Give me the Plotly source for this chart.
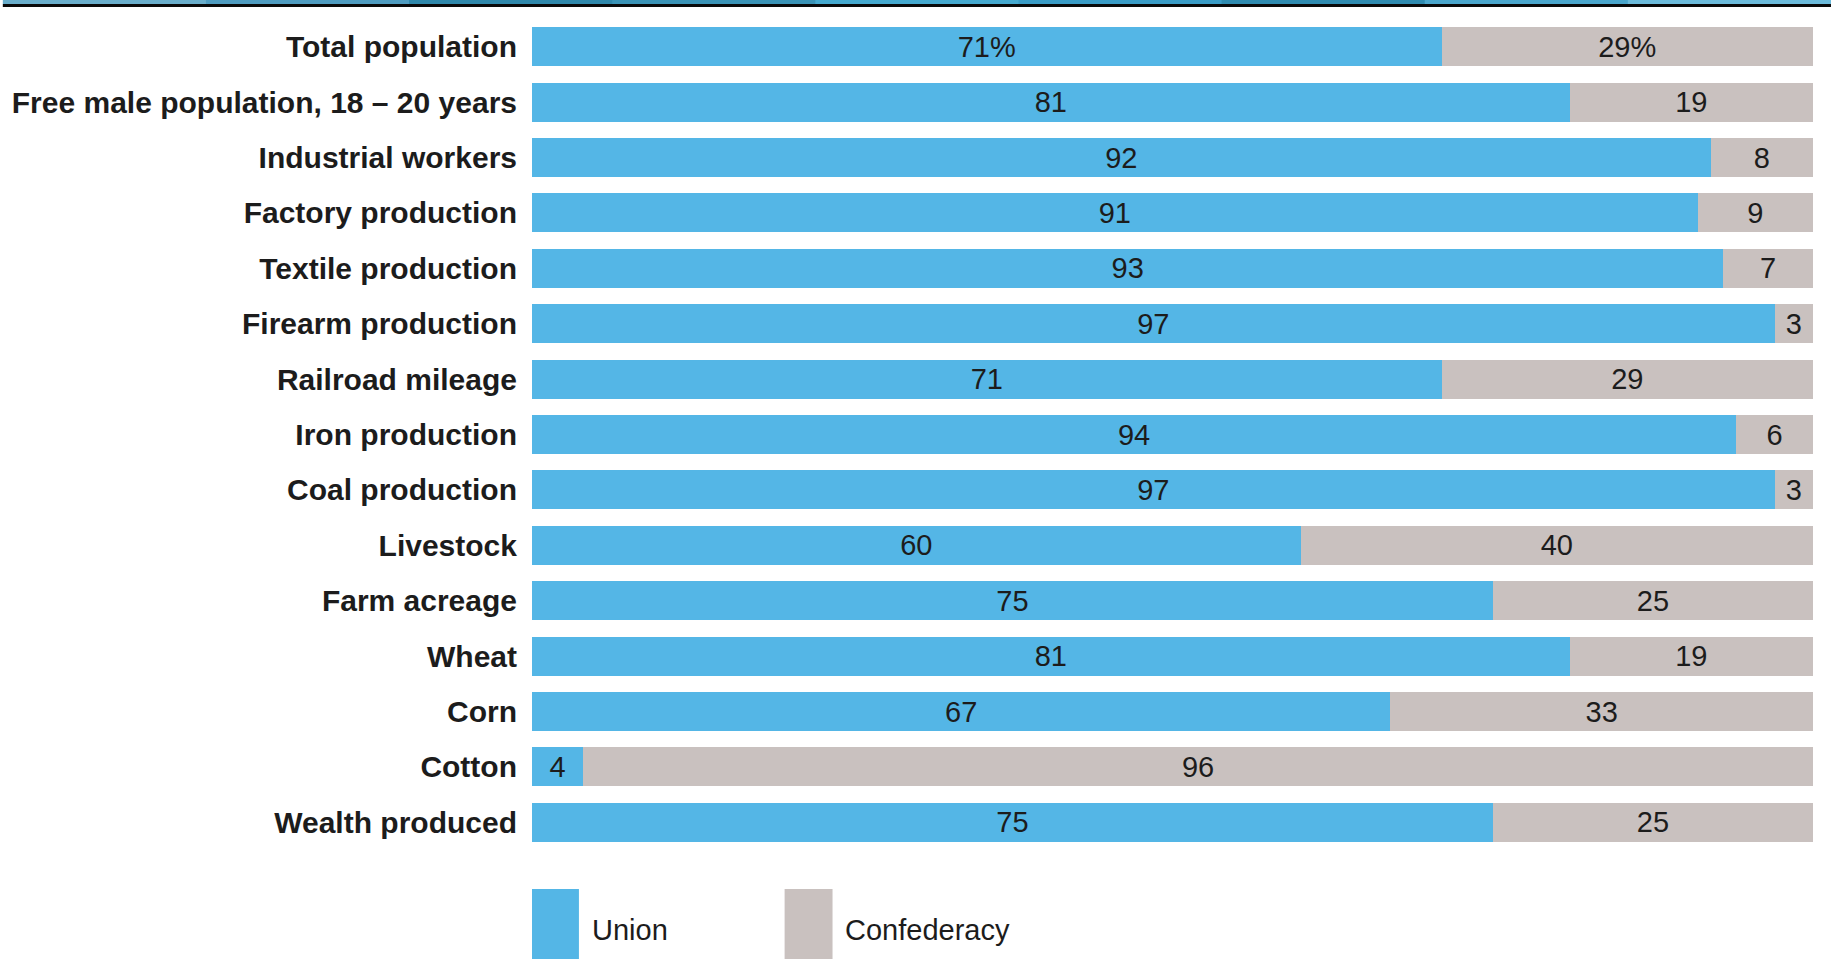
import plotly.graph_objects as go

categories = [
    "Total population",
    "Free male population, 18 – 20 years",
    "Industrial workers",
    "Factory production",
    "Textile production",
    "Firearm production",
    "Railroad mileage",
    "Iron production",
    "Coal production",
    "Livestock",
    "Farm acreage",
    "Wheat",
    "Corn",
    "Cotton",
    "Wealth produced",
]
union = [71, 81, 92, 91, 93, 97, 71, 94, 97, 60, 75, 81, 67, 4, 75]
confederacy = [29, 19, 8, 9, 7, 3, 29, 6, 3, 40, 25, 19, 33, 96, 25]
series_names = ["Union", "Confederacy"]

UNION_COLOR = "#54B6E6"
CONF_COLOR = "#C9C1BF"
TEXT_COLOR = "#1c1c1c"
FONT = "Liberation Sans, Arial, sans-serif"

W, H = 1831, 959
ML, MR, MT, MB = 530, 18, 19, 109


def px_x(px):
    return (px - ML) / (W - ML - MR)


def px_y(py):
    return (H - MB - py) / (H - MT - MB)


def labels(vals):
    return [f"{v}%" if i == 0 else str(v) for i, v in enumerate(vals)]


fig = go.Figure()
for name, vals, color in [(series_names[0], union, UNION_COLOR),
                          (series_names[1], confederacy, CONF_COLOR)]:
    fig.add_trace(go.Bar(
        y=categories, x=vals, orientation="h", name=name,
        marker=dict(color=color, line=dict(width=0)),
        text=labels(vals), textposition="inside", insidetextanchor="middle",
        textangle=0, constraintext="none", cliponaxis=False,
        textfont=dict(family=FONT, size=29, color=TEXT_COLOR),
        hoverinfo="skip",
    ))

shapes = []
# top decorative band (approximate gradient)
band_colors = ["#6aaecb", "#4f9cc0", "#2f88ab", "#3a93b6", "#45a9cf", "#3a9cc6", "#2f8bb0", "#4aa6cc", "#6cbbdb"]
n = len(band_colors)
for i, c in enumerate(band_colors):
    shapes.append(dict(type="rect", xref="paper", yref="paper",
                       x0=px_x(i * W / n), x1=px_x((i + 1) * W / n + 1),
                       y0=px_y(4), y1=px_y(0), fillcolor=c, line=dict(width=0), layer="above"))
shapes.append(dict(type="rect", xref="paper", yref="paper",
                   x0=px_x(0), x1=px_x(W), y0=px_y(7), y1=px_y(4),
                   fillcolor="#0a0a0a", line=dict(width=0), layer="above"))

annotations = []
legend_items = [(series_names[0], UNION_COLOR, 530, 577, 588),
                (series_names[1], CONF_COLOR, 783, 831, 841)]
for name, color, x0, x1, tx in legend_items:
    shapes.append(dict(type="rect", xref="paper", yref="paper",
                       x0=px_x(x0), x1=px_x(x1), y0=px_y(H + 5), y1=px_y(889),
                       fillcolor=color, line=dict(width=0)))
    annotations.append(dict(xref="paper", yref="paper", x=px_x(tx), y=px_y(930),
                            xanchor="left", yanchor="middle", showarrow=False, text=name,
                            font=dict(family=FONT, size=29, color=TEXT_COLOR)))

fig.update_layout(
    width=W, height=H,
    margin=dict(l=ML, r=MR, t=MT, b=MB, pad=0),
    barmode="stack", bargap=0.296,
    plot_bgcolor="white", paper_bgcolor="white",
    showlegend=False,
    shapes=shapes, annotations=annotations,
    xaxis=dict(range=[0, 100], visible=False, fixedrange=True),
    yaxis=dict(categoryorder="array", categoryarray=categories,
               range=[len(categories) - 0.5, -0.5],
               showgrid=False, zeroline=False, showline=False, ticks="",
               ticklabelstandoff=14, fixedrange=True,
               tickfont=dict(family=FONT, size=30, color=TEXT_COLOR, weight="bold")),
)

fig.write_html("out.html", config={"displayModeBar": False},
               post_script="document.body.style.margin='0px';document.body.style.overflow='hidden';")
